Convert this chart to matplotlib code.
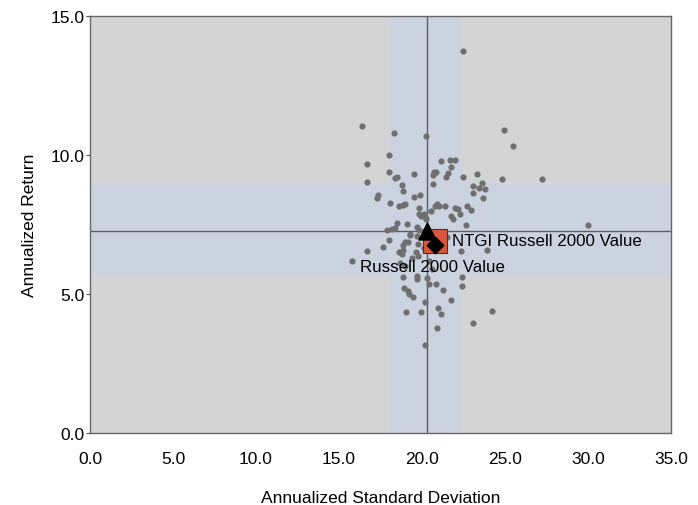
import matplotlib
matplotlib.use("Agg")
import matplotlib.pyplot as plt

plt.rcParams['font.family'] = ['Liberation Sans', 'DejaVu Sans']

# peer universe (annualized std dev, annualized return)
peer_sd = [22.49, 16.37, 18.33, 20.22, 24.94, 25.50, 18.01, 16.67, 21.13, 21.69,
           21.99, 21.75, 18.01, 19.52, 20.74, 20.64, 20.84, 21.55, 21.45, 18.39,
           18.51, 16.71, 22.49, 23.29, 24.84, 27.25, 20.68, 18.77, 18.86, 23.05,
           23.63, 23.45, 23.80, 23.09, 23.69, 17.35, 17.31, 19.52, 19.90, 18.09,
           18.59, 18.84, 18.99, 19.84, 20.76, 20.92, 21.00, 21.39, 20.52, 21.97,
           22.19, 22.29, 22.71, 22.97, 19.80, 19.96, 20.12, 20.18, 20.26, 21.75,
           21.89, 18.47, 19.08, 22.67, 17.87, 18.17, 18.37, 19.28, 19.72, 19.80,
           19.28, 18.03, 18.98, 19.18, 18.87, 19.68, 19.78, 17.63, 16.71, 18.63,
           18.77, 18.87, 19.64, 19.78, 22.35, 23.89, 15.76, 22.39, 18.84, 19.72,
           19.68, 20.32, 20.44, 20.84, 22.39, 18.92, 19.18, 21.28, 19.24, 19.44,
           21.75, 20.18, 20.98, 21.13, 19.02, 19.92, 24.22, 23.09, 20.88, 20.18,
           20.58, 20.98, 21.49, 29.98, 20.40, 20.60, 19.38, 18.70, 19.00, 20.10]
peer_ret = [13.73, 11.04, 10.78, 10.67, 10.91, 10.31, 10.00, 9.68, 9.78, 9.81,
            9.83, 9.57, 9.38, 9.31, 9.38, 9.29, 9.40, 9.34, 9.20, 9.17,
            9.22, 9.02, 9.22, 9.31, 9.15, 9.14, 8.97, 8.91, 8.69, 8.88,
            8.99, 8.80, 8.77, 8.62, 8.44, 8.56, 8.46, 8.50, 8.56, 8.28,
            8.17, 8.21, 8.23, 8.08, 8.18, 8.25, 8.16, 8.18, 7.99, 8.10,
            8.05, 7.87, 8.18, 8.02, 7.87, 7.80, 7.87, 7.76, 7.70, 7.80,
            7.69, 7.55, 7.52, 7.49, 7.31, 7.34, 7.37, 7.16, 7.40, 7.31,
            7.12, 6.95, 6.86, 6.88, 6.76, 7.10, 6.80, 6.68, 6.54, 6.52,
            6.44, 6.59, 6.52, 6.38, 6.55, 6.59, 6.20, 5.60, 5.62, 5.66,
            5.54, 5.56, 5.36, 5.36, 5.28, 5.21, 5.12, 5.16, 5.00, 4.88,
            4.80, 4.72, 4.49, 4.28, 4.36, 4.36, 4.40, 3.95, 3.77, 3.17,
            7.04, 6.98, 7.04, 7.48, 6.20, 5.90, 6.30, 6.10, 6.00, 6.65]

median_sd, median_ret = 20.30, 7.26
sd_band = (18.10, 22.35)
ret_band = (5.67, 8.95)

fund_name = "NTGI Russell 2000 Value"
fund_sd, fund_ret = 20.78, 6.91
bench_name = "Russell 2000 Value"
bench_sd, bench_ret = 20.78, 6.77

fig = plt.figure(figsize=(6.98, 5.06), dpi=100)
ax = fig.add_axes([0.1289, 0.1423, 0.8324, 0.8241])
ax.set_facecolor('#d4d4d4')

band_color = '#ccd3e0'
ax.axvspan(sd_band[0], sd_band[1], color=band_color, lw=0, zorder=0)
ax.axhspan(ret_band[0], ret_band[1], color=band_color, lw=0, zorder=0)
ax.axvline(median_sd, color='#5a5e66', lw=1, zorder=1)
ax.axhline(median_ret, color='#5a5e66', lw=1, zorder=1)

ax.scatter(peer_sd, peer_ret, s=20, color='#6f6f6f', lw=0, zorder=2)

ax.scatter([fund_sd], [fund_ret], marker='s', s=300, color='#d6563f',
           edgecolor='#5a2a20', lw=0.8, zorder=3)
ax.scatter([bench_sd], [bench_ret], marker='D', s=70, color='black', zorder=4)
ax.scatter([median_sd], [median_ret], marker='^', s=150, color='black', zorder=5)

ax.text(21.8, fund_ret, fund_name, fontsize=12.2, va='center', ha='left', zorder=6)
ax.text(16.25, 5.98, bench_name, fontsize=12.2, va='center', ha='left', zorder=6)

ax.set_xlim(0, 35)
ax.set_ylim(0, 15)
ax.set_xticks([0, 5, 10, 15, 20, 25, 30, 35])
ax.set_yticks([0, 5, 10, 15])
ax.set_xticklabels([f"{v:.1f}" for v in ax.get_xticks()])
ax.set_yticklabels([f"{v:.1f}" for v in ax.get_yticks()])
ax.tick_params(axis='both', labelsize=12.5, color='#555555', length=3, pad=1)
ax.tick_params(axis='x', length=0, pad=13)
for sp in ax.spines.values():
    sp.set_color('#666666')
    sp.set_linewidth(1)

ax.set_xlabel("Annualized Standard Deviation", fontsize=12.5, labelpad=17)
ax.set_ylabel("Annualized Return", fontsize=12.5, labelpad=10)

fig.savefig("out.png", dpi=100)
